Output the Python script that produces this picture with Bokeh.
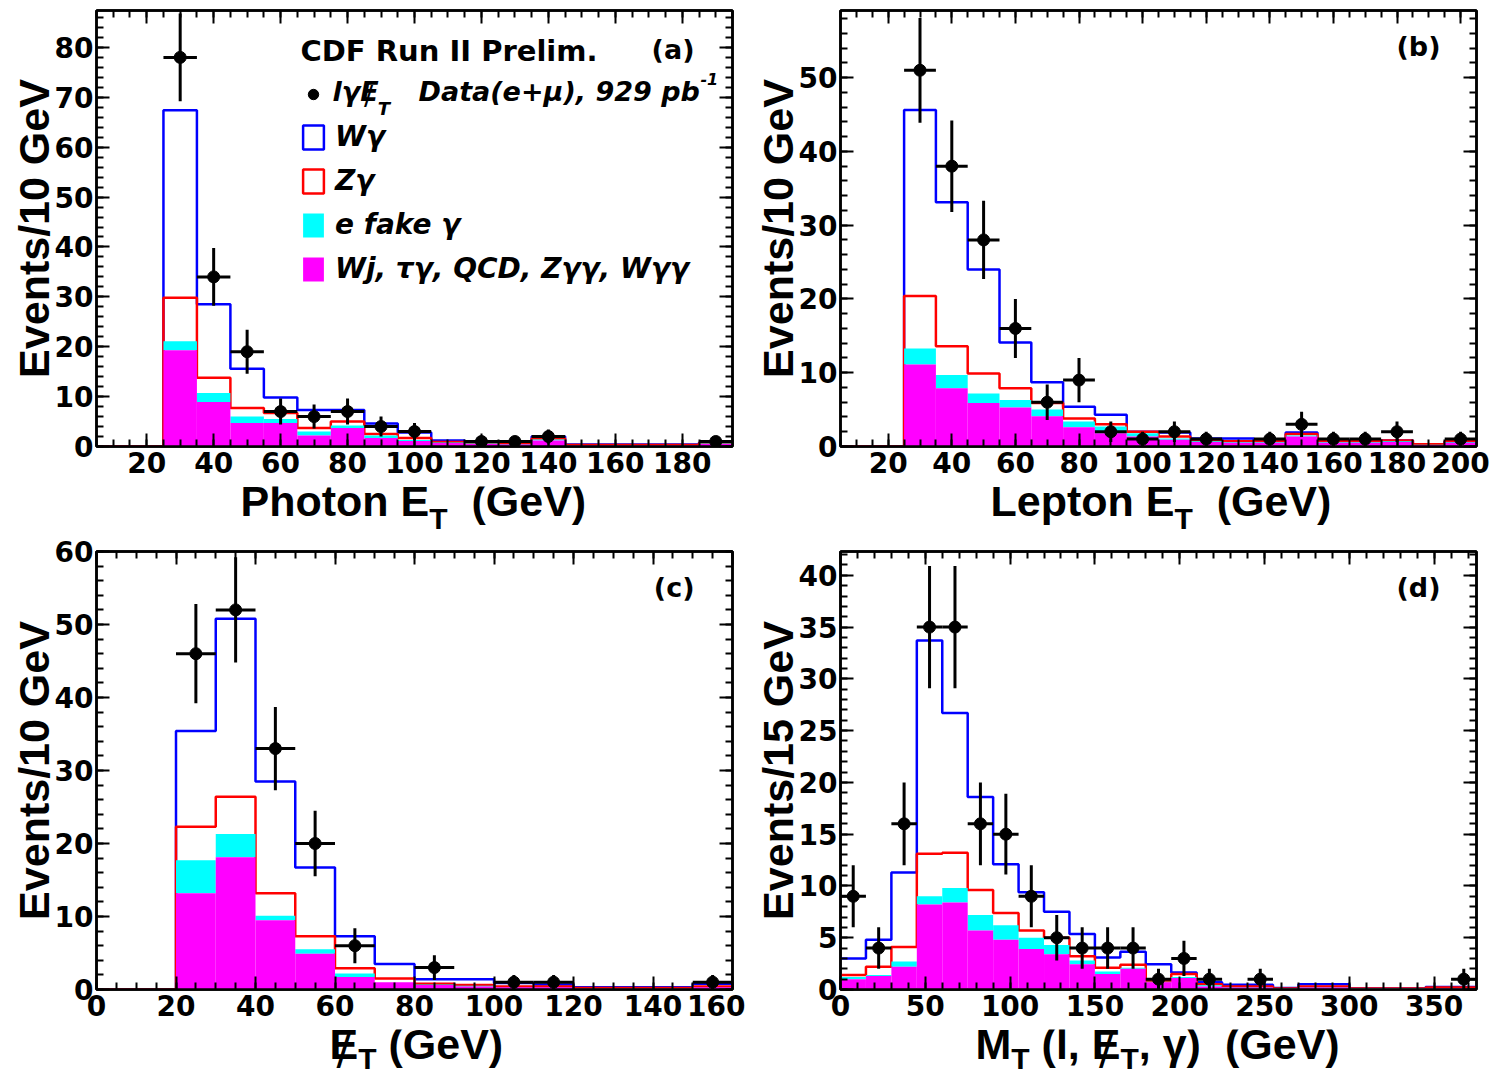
import numpy as np
from bokeh.plotting import figure
from bokeh.models import (Range1d, SingleIntervalTicker, LinearAxis, Label,
                          Legend, LegendItem, CustomJSTickFormatter)
from bokeh.layouts import column, row
from bokeh.embed import file_html
from bokeh.resources import INLINE
from bokeh.core.validation import silence
from bokeh.core.validation.warnings import MISSING_RENDERERS

silence(MISSING_RENDERERS, True)

# ---------------- data (stack tops are cumulative heights as read) ----------------
# (a) Photon ET, 10 GeV bins
a_edges = list(range(5, 196, 10))
a_other = [0, 0, 19.3, 8.9, 4.7, 4.7, 2.2, 3.7, 1.7, 1.1, 0.7, 0.5, 0.4, 1.2, 0.2, 0.2, 0.2, 0.2, 0.5]
a_efake = [0, 0, 21.1, 10.7, 6.0, 5.5, 3.0, 4.2, 2.2, 1.3, 0.8, 0.6, 0.5, 1.4, 0.25, 0.25, 0.25, 0.25, 0.6]
a_zg = [0, 0, 29.8, 13.8, 7.7, 6.7, 3.7, 5.0, 2.5, 1.7, 0.9, 0.7, 0.6, 1.6, 0.3, 0.3, 0.3, 0.3, 0.7]
a_wg = [0, 0, 67.4, 28.5, 15.6, 9.8, 7.3, 7.3, 4.6, 2.8, 1.2, 0.8, 0.8, 2.0, 0.4, 0.4, 0.4, 0.4, 0.8]
a_x = [30, 40, 50, 60, 70, 80, 90, 100, 120, 130, 140, 190]
a_n = [78, 34, 19, 7, 6, 7, 4, 3, 1, 1, 2, 1]
a_err = [8.8, 5.8, 4.4, 2.6, 2.4, 2.6, 2.0, 1.7, 1.0, 1.0, 1.4, 1.0]

# (b) Lepton ET, 10 GeV bins
b_edges = list(range(5, 206, 10))
b_other = [0, 0, 11.1, 7.9, 5.9, 5.3, 4.1, 2.6, 1.8, 1.35, 0.9, 0.6, 0.5, 0.5, 1.35, 0.5, 0.5, 0.6, 0.2, 0.5]
b_efake = [0, 0, 13.3, 9.7, 7.2, 6.3, 5.0, 3.4, 2.7, 1.8, 1.1, 0.7, 0.6, 0.6, 1.5, 0.6, 0.6, 0.7, 0.25, 0.6]
b_zg = [0, 0, 20.4, 13.6, 9.9, 7.9, 5.9, 3.8, 3.0, 2.0, 1.35, 0.8, 0.7, 0.7, 1.7, 0.7, 0.7, 0.8, 0.3, 0.7]
b_wg = [0, 0, 45.6, 33.1, 24.0, 14.1, 8.7, 5.4, 4.3, 2.0, 1.9, 1.1, 1.1, 0.8, 1.9, 0.8, 0.8, 0.8, 0.3, 0.7]
b_x = [30, 40, 50, 60, 70, 80, 90, 100, 110, 120, 140, 150, 160, 170, 180, 200]
b_n = [51, 38, 28, 16, 6, 9, 2, 1, 2, 1, 1, 3, 1, 1, 2, 1]
b_err = [7.1, 6.2, 5.3, 4.0, 2.4, 3.0, 1.4, 1.0, 1.4, 1.0, 1.0, 1.7, 1.0, 1.0, 1.4, 1.0]

# (c) missing ET, 10 GeV bins
c_edges = list(range(0, 161, 10))
c_other = [0, 0, 13.2, 18.1, 9.5, 4.9, 1.7, 1.0, 0.6, 0.4, 0.3, 0.3, 0.1, 0.1, 0.1, 0.3]
c_efake = [0, 0, 17.7, 21.3, 10.1, 5.5, 2.2, 1.0, 0.7, 0.5, 0.35, 0.35, 0.15, 0.15, 0.15, 0.35]
c_zg = [0, 0, 22.3, 26.4, 13.2, 7.3, 2.9, 1.5, 0.8, 0.6, 0.4, 0.4, 0.2, 0.2, 0.2, 0.4]
c_wg = [0, 0, 35.4, 50.8, 28.5, 16.7, 7.3, 3.5, 1.4, 1.4, 0.9, 0.7, 0.3, 0.3, 0.3, 0.8]
c_x = [25, 35, 45, 55, 65, 85, 105, 115, 155]
c_n = [46, 52, 33, 20, 6, 3, 1, 1, 1]
c_err = [6.8, 7.2, 5.7, 4.5, 2.4, 1.7, 1.0, 1.0, 1.0]

# (d) transverse mass, 15 GeV bins
d_edges = list(range(0, 376, 15))
d_other = [1.0, 1.3, 2.2, 8.2, 8.4, 5.7, 4.8, 3.9, 3.4, 2.45, 1.5, 2.0, 0.7, 1.1, 0.3, 0.2, 0.2, 0.05, 0.2, 0.2, 0.05, 0.05, 0.05, 0.1, 0.1]
d_efake = [1.2, 1.4, 2.7, 9.0, 9.8, 7.2, 6.2, 5.0, 4.3, 2.8, 1.75, 2.1, 0.75, 1.2, 0.4, 0.25, 0.25, 0.1, 0.25, 0.25, 0.1, 0.1, 0.1, 0.15, 0.15]
d_zg = [1.4, 2.2, 4.1, 13.1, 13.2, 9.6, 7.4, 5.7, 5.0, 3.2, 2.1, 2.4, 0.8, 1.5, 0.5, 0.3, 0.3, 0.1, 0.3, 0.3, 0.1, 0.1, 0.1, 0.2, 0.2]
d_wg = [3.0, 4.8, 11.3, 33.7, 26.7, 18.6, 12.1, 9.4, 7.5, 5.35, 3.1, 3.65, 2.45, 1.65, 0.7, 0.45, 0.45, 0.15, 0.5, 0.5, 0.1, 0.1, 0.1, 0.25, 0.25]
d_x = [7.5, 22.5, 37.5, 52.5, 67.5, 82.5, 97.5, 112.5, 127.5, 142.5, 157.5, 172.5, 187.5, 202.5, 217.5, 247.5, 367.5]
d_n = [9, 4, 16, 35, 35, 16, 15, 9, 5, 4, 4, 4, 1, 3, 1, 1, 1]
d_err = [3.0, 2.0, 4.0, 5.9, 5.9, 4.0, 3.9, 3.0, 2.2, 2.0, 2.0, 2.0, 1.0, 1.7, 1.0, 1.0, 1.0]

# ---------------- styling helpers ----------------
BLUE, RED, CYAN, MAG = "#0000ff", "#ff0000", "#00ffff", "#ff00ff"
TICKF = "DejaVu Sans"
TITLEF = "Liberation Sans"
LB = {' ': 0.278, '(': 0.333, ')': 0.333, ',': 0.278, '/': 0.278, '0': 0.556, '1': 0.556,
      '5': 0.556, 'E': 0.667, 'G': 0.778, 'L': 0.611, 'M': 0.833, 'P': 0.667, 'T': 0.611,
      'V': 0.667, 'e': 0.556, 'h': 0.611, 'l': 0.278, 'n': 0.611, 'o': 0.611, 'p': 0.611,
      't': 0.333, 'v': 0.556, 's': 0.556, 'γ': 0.56}
DB = {' ': 0.348, '(': 0.457, ')': 0.457, '+': 0.838, ',': 0.38, '-': 0.415, '9': 0.696,
      '2': 0.696, '1': 0.696, 'D': 0.83, 'E': 0.683, 'T': 0.682, 'a': 0.675, 'b': 0.716,
      'e': 0.678, 'l': 0.343, 'p': 0.716, 't': 0.478, 'γ': 0.65, 'μ': 0.721}
BASE_K = 0.4   # measured drop of the alphabetic baseline, as a fraction of font size


def wid(s, size, tab):
    return sum(tab.get(ch, 0.6) for ch in s) * size


def px2d(g, px, py):
    x = g['x0'] + (px - g['left']) / (g['right'] - g['left']) * (g['x1'] - g['x0'])
    y = g['y0'] + (g['bottom'] - py) / (g['bottom'] - g['top']) * (g['y1'] - g['y0'])
    return x, y


def add_text(p, g, px, py, text, size, font=TITLEF, style="bold", align="left",
             angle=0.0, baseline="alphabetic", top_anchor=False):
    # px, py: wanted baseline position on the page, mapped through the figure's scales
    py = py - BASE_K * size
    x, y = px2d(g, px, py)
    yoff = 0
    if top_anchor:
        # anchor at the top of the frame and float down a fixed number of pixels
        y = g['y1']
        yoff = -(py - g['top'])
    p.add_layout(Label(x=x, y=y, y_offset=yoff, text=text, text_font=font,
                       text_font_size=f"{size}px", text_font_style=style,
                       text_align=align, text_baseline=baseline,
                       angle=angle, text_color="black"))


def draw_title(p, g, x, base, pieces, subdy=12):
    for kind, txt in pieces:
        if kind == 'gap':
            x += txt * LB[' '] * 43
            continue
        size, dy = (30, subdy) if kind == 'sub' else (43, 0)
        add_text(p, g, x, base + dy, txt, size, top_anchor=True)
        if kind == 'slash':
            add_text(p, g, x + wid('E', 43, LB) * 0.5, base + 5, "/", 43,
                     font="DejaVu Sans", style="normal", align="center", top_anchor=True)
        x += wid(txt, size, LB)


def make_strip(g):
    # strip under a panel; same left/right borders as the panel so frames line up
    s = figure(width=g['w'], height=g['h'], x_range=Range1d(g['x0'], g['x1']),
               y_range=Range1d(g['y0'], g['y1']), title_location=None,
               output_backend="svg", toolbar_location=None,
               min_border_left=g['bl'], min_border_right=g['br'],
               min_border_top=0, min_border_bottom=0,
               x_axis_location=None, y_axis_location=None)
    s.outline_line_color = None
    s.xgrid.visible = False
    s.ygrid.visible = False
    s.background_fill_color = "white"
    s.border_fill_color = "white"
    return s


def make_panel(g, W, H, xint, xminor, yint, yminor, ytitle,
               edges, other, efake, zg, wg, dx, dn, derr, xhalf):
    bl = g['left'] - g['ox']
    bt = g['top'] - g['oy']
    br = W - bl - (g['right'] - g['left'])
    bb = H - bt - (g['bottom'] - g['top'])
    p = figure(width=W, height=H, x_range=Range1d(g['x0'], g['x1']),
               y_range=Range1d(g['y0'], g['y1']), output_backend="svg",
               toolbar_location=None, min_border_left=bl, min_border_right=br,
               min_border_top=bt, min_border_bottom=bb)
    p.xgrid.visible = False
    p.ygrid.visible = False
    p.outline_line_color = "black"
    p.outline_line_width = 2.5
    p.background_fill_color = "white"
    p.border_fill_color = "white"

    p.xaxis.ticker = SingleIntervalTicker(interval=xint, num_minor_ticks=xminor)
    p.yaxis.ticker = SingleIntervalTicker(interval=yint, num_minor_ticks=yminor)
    for ax in (p.xaxis[0], p.yaxis[0]):
        ax.major_tick_in = 13
        ax.major_tick_out = 0
        ax.minor_tick_in = 7
        ax.minor_tick_out = 0
        ax.major_tick_line_width = 2
        ax.minor_tick_line_width = 2
        ax.axis_line_width = 2.5
        ax.major_label_text_font = TICKF
        ax.major_label_text_font_style = "bold"
        ax.major_label_text_font_size = "28px"
        ax.major_label_text_color = "black"
    p.xaxis.major_label_standoff = 5
    p.yaxis.major_label_standoff = 3
    p.yaxis.axis_label = ytitle
    p.yaxis.axis_label_text_font = TITLEF
    p.yaxis.axis_label_text_font_style = "bold"
    p.yaxis.axis_label_text_font_size = "43px"
    p.yaxis.axis_label_text_color = "black"
    p.yaxis.axis_label_standoff = -6

    for loc, iv, nm in (("above", xint, xminor), ("right", yint, yminor)):
        ax = LinearAxis(ticker=SingleIntervalTicker(interval=iv, num_minor_ticks=nm),
                        formatter=CustomJSTickFormatter(code="return ''"),
                        major_label_text_font_size="1px", major_label_standoff=0,
                        major_tick_in=13, major_tick_out=0, minor_tick_in=7,
                        minor_tick_out=0, major_tick_line_width=2,
                        minor_tick_line_width=2, axis_line_width=2.5)
        p.add_layout(ax, loc)

    # stacked histogram: outlines of W gamma (total) and Z gamma, fills for the rest
    p.step(x=edges, y=list(wg) + [wg[-1]], mode="after", line_color=BLUE, line_width=2.5)
    p.step(x=edges, y=list(zg) + [zg[-1]], mode="after", line_color=RED, line_width=2.5)
    p.quad(left=edges[:-1], right=edges[1:], bottom=other, top=efake,
           fill_color=CYAN, line_color=None)
    p.quad(left=edges[:-1], right=edges[1:], bottom=0, top=other,
           fill_color=MAG, line_color=None)

    dx = np.array(dx, dtype=float)
    dn = np.array(dn, dtype=float)
    derr = np.array(derr, dtype=float)
    p.segment(x0=dx - xhalf, y0=dn, x1=dx + xhalf, y1=dn, line_color="black", line_width=3)
    p.segment(x0=dx, y0=dn - derr, x1=dx, y1=dn + derr, line_color="black", line_width=3)
    r = p.scatter(x=dx, y=dn, marker="circle", size=12, fill_color="black", line_color="black")
    return p, r


# frame geometry in page pixels (ox, oy = figure origin on the page)
WL, WR = 745, 753
HA, HC = 486, 491
GA = dict(ox=0, oy=0, left=96, right=732, top=10, bottom=446, x0=5, x1=195, y0=0, y1=87.4)
GB = dict(ox=WL, oy=0, left=840, right=1476, top=10, bottom=446, x0=5, x1=205, y0=0, y1=59.1)
GC = dict(ox=0, oy=538, left=96, right=732, top=551, bottom=989, x0=0, x1=160, y0=0, y1=60)
GD = dict(ox=WL, oy=538, left=840, right=1476, top=551, bottom=989, x0=0, x1=375, y0=0, y1=42.3)


def strip_geom(pg, w, oy, h):
    # frame of the strip spans the panel's frame horizontally; x data units are page pixels
    return dict(left=pg['left'], right=pg['right'], top=oy, bottom=oy + h,
                x0=pg['left'], x1=pg['right'], y0=0, y1=h, w=w, h=h,
                bl=pg['left'] - pg['ox'], br=w - (pg['right'] - pg['ox']))


SA = strip_geom(GA, WL, HA, 538 - HA)
SB = strip_geom(GB, WR, HA, 538 - HA)
SC = strip_geom(GC, WL, 538 + HC, 1073 - 538 - HC)
SD = strip_geom(GD, WR, 538 + HC, 1073 - 538 - HC)

pA, rA = make_panel(GA, WL, HA, 20, 4, 10, 5, "Events/10 GeV",
                    a_edges, a_other, a_efake, a_zg, a_wg, a_x, a_n, a_err, 5)
pB, rB = make_panel(GB, WR, HA, 20, 4, 10, 5, "Events/10 GeV",
                    b_edges, b_other, b_efake, b_zg, b_wg, b_x, b_n, b_err, 5)
pC, rC = make_panel(GC, WL, HC, 20, 4, 10, 5, "Events/10 GeV",
                    c_edges, c_other, c_efake, c_zg, c_wg, c_x, c_n, c_err, 5)
pD, rD = make_panel(GD, WR, HC, 50, 5, 5, 5, "Events/15 GeV",
                    d_edges, d_other, d_efake, d_zg, d_wg, d_x, d_n, d_err, 7.5)

sA, sB, sC, sD = make_strip(SA), make_strip(SB), make_strip(SC), make_strip(SD)

# x-axis titles
draw_title(sA, SA, 240, 518, [('t', "Photon E"), ('sub', "T"), ('gap', 2), ('t', "(GeV)")])
draw_title(sB, SB, 990, 518, [('t', "Lepton E"), ('sub', "T"), ('gap', 2), ('t', "(GeV)")])
draw_title(sC, SC, 329, 1061, [('slash', "E"), ('sub', "T"), ('gap', 1), ('t', "(GeV)")], subdy=9)
draw_title(sD, SD, 975, 1061, [('t', "M"), ('sub', "T"), ('gap', 1), ('t', "(l,"), ('gap', 1),
                                ('slash', "E"), ('sub', "T"), ('t', ","), ('gap', 1),
                                ('t', "γ)"), ('gap', 2), ('t', "(GeV)")], subdy=9)

# panel tags
add_text(pA, GA, 694, 60, "(a)", 27, font="DejaVu Sans", align="right")
add_text(pB, GB, 1440, 57, "(b)", 27, font="DejaVu Sans", align="right")
add_text(pC, GC, 694, 598, "(c)", 27, font="DejaVu Sans", align="right")
add_text(pD, GD, 1440, 598, "(d)", 27, font="DejaVu Sans", align="right")

# legend in (a)
add_text(pA, GA, 300, 62, "CDF Run II Prelim.", 29, font="DejaVu Sans")
nan = [float("nan")]
proxy_w = pA.quad(left=nan, right=nan, bottom=nan, top=nan, fill_color="white", line_color=BLUE, line_width=2.5)
proxy_z = pA.quad(left=nan, right=nan, bottom=nan, top=nan, fill_color="white", line_color=RED, line_width=2.5)
proxy_e = pA.quad(left=nan, right=nan, bottom=nan, top=nan, fill_color=CYAN, line_color=None)
proxy_o = pA.quad(left=nan, right=nan, bottom=nan, top=nan, fill_color=MAG, line_color=None)
legend = Legend(items=[LegendItem(label=" ", renderers=[rA]),
                       LegendItem(label="Wγ", renderers=[proxy_w]),
                       LegendItem(label="Zγ", renderers=[proxy_z]),
                       LegendItem(label="e fake γ", renderers=[proxy_e]),
                       LegendItem(label="Wj, τγ, QCD, Zγγ, Wγγ", renderers=[proxy_o])],
                location=(300 - GA['left'], GA['bottom'] - 285),
                glyph_width=26, glyph_height=30, label_height=30, spacing=11,
                padding=0, margin=0, border_line_color=None, background_fill_alpha=0,
                label_standoff=9, label_text_font="DejaVu Sans", label_text_color="black",
                label_text_font_style="bold italic", label_text_font_size="28px")
pA.add_layout(legend)

# data legend label with sub/superscripts
lx, lb = 332, 102
add_text(pA, GA, lx, lb, "lγE", 27, font="DejaVu Sans", style="bold italic")
ex = lx + wid("lγ", 27, DB)
add_text(pA, GA, ex + wid("E", 27, DB) * 0.5, lb + 4, "/", 27, font="DejaVu Sans",
         style="normal", align="center")
add_text(pA, GA, ex + wid("E", 27, DB), lb + 13, "T", 18, font="DejaVu Sans", style="bold italic")
add_text(pA, GA, 418, lb, "Data(e+μ), 929 pb", 27, font="DejaVu Sans", style="bold italic")
add_text(pA, GA, 418 + wid("Data(e+μ), 929 pb", 27, DB) + 1, lb - 17, "-1", 16,
         font="DejaVu Sans", style="bold italic")

layout = column(row(column(pA, sA), column(pB, sB)), row(column(pC, sC), column(pD, sD)))
open("out.html", "w").write(file_html(layout, INLINE, "CDF W gamma"))
